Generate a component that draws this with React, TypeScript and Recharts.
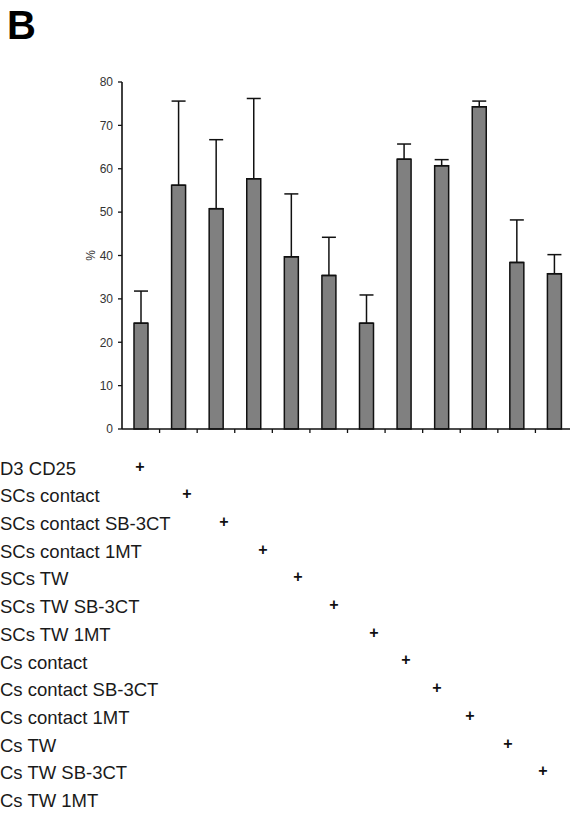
import React from "react";
import { BarChart, Bar, XAxis, YAxis, ErrorBar } from "recharts";

// bar heights (%) and upper SD
const groups = [
  "CD3 CD25",
  "SCs contact",
  "SCs contact SB-3CT",
  "SCs contact 1MT",
  "SCs TW",
  "SCs TW SB-3CT",
  "SCs TW 1MT",
  "Cs contact",
  "Cs contact SB-3CT",
  "Cs contact 1MT",
  "Cs TW",
  "Cs TW SB-3CT",
];
const values = [24.4, 56.2, 50.8, 57.7, 39.7, 35.4, 24.4, 62.2, 60.7, 74.3, 38.4, 35.8];
const errors = [7.4, 19.4, 15.9, 18.5, 14.5, 8.8, 6.5, 3.5, 1.4, 1.3, 9.8, 4.4];
const yTicks = [0, 10, 20, 30, 40, 50, 60, 70, 80];

// condition rows under the chart (left part is cut off in the original)
const rowLabels = [
  "D3 CD25",
  "SCs contact",
  "SCs contact SB-3CT",
  "SCs contact 1MT",
  "SCs TW",
  "SCs TW SB-3CT",
  "SCs TW 1MT",
  "Cs contact",
  "Cs contact SB-3CT",
  "Cs contact 1MT",
  "Cs TW",
  "Cs TW SB-3CT",
  "Cs TW 1MT",
];
// column of the "+" in each row of the condition table (layout only)
const plusX = [140, 187, 224, 263, 298, 334, 374, 406, 437, 470, 508, 543];

const CHART_W = 600;
const CHART_H = 450;
const PLOT_LEFT = 122;
const RIGHT_MARGIN = 27;
const BAND = (CHART_W - PLOT_LEFT - RIGHT_MARGIN) / groups.length;

const font = "'Liberation Sans', Arial, sans-serif";

const BoundaryTick = (props: any) => {
  const { x, y } = props;
  const bx = x + BAND / 2;
  return <line x1={bx} x2={bx} y1={y} y2={y + 4} stroke="#111" strokeWidth={1.3} />;
};

const PercentLabel = (props: any) => {
  const { viewBox } = props;
  const cx = viewBox.x + 29;
  const cy = viewBox.y + viewBox.height / 2;
  return (
    <text
      transform={`translate(${cx},${cy}) rotate(-90)`}
      textAnchor="middle"
      dominantBaseline="central"
      fontSize={12}
      fill="#333"
      fontFamily={font}
    >
      %
    </text>
  );
};

export default function App() {
  const data = groups.map((g, i) => ({
    group: g,
    value: values[i],
    err: [0, errors[i]],
  }));

  return (
    <div
      style={{
        position: "absolute",
        left: 0,
        top: 0,
        width: 570,
        height: 813,
        overflow: "hidden",
        background: "#fff",
        fontFamily: font,
      }}
    >
      <svg width={570} height={813} style={{ position: "absolute", left: 0, top: 0 }}>
        <text x={7} y={39} fontSize={40} fontWeight="bold" fill="#000" fontFamily={font}>
          B
        </text>
        {rowLabels.map((label, i) => {
          const cy = 468 + i * 27.7;
          return (
            <g key={label}>
              <text x={0} y={cy + 6.6} fontSize={18.5} fill="#1a1a1a" fontFamily={font}>
                {label}
              </text>
              {i < plusX.length && (
                <text
                  x={plusX[i]}
                  y={cy + 3.5}
                  fontSize={16}
                  fontWeight="bold"
                  textAnchor="middle"
                  fill="#111"
                  fontFamily={font}
                >
                  +
                </text>
              )}
            </g>
          );
        })}
      </svg>

      <div style={{ position: "absolute", left: 0, top: 0 }}>
        <BarChart
          width={CHART_W}
          height={CHART_H}
          data={data}
          margin={{ top: 82, right: RIGHT_MARGIN, bottom: 11, left: 62 }}
        >
          <XAxis
            dataKey="group"
            height={10}
            axisLine={{ stroke: "#111", strokeWidth: 1.6 }}
            tickLine={false}
            tickSize={0}
            tickMargin={0}
            interval={0}
            tick={<BoundaryTick />}
          />
          <YAxis
            width={60}
            domain={[0, 80]}
            ticks={yTicks}
            interval={0}
            axisLine={{ stroke: "#111", strokeWidth: 1.6 }}
            tickLine={{ stroke: "#111", strokeWidth: 1.3 }}
            tickSize={4}
            tickMargin={5}
            tick={{ fontSize: 12, fill: "#333", fontFamily: font }}
            label={<PercentLabel />}
          />
          <Bar
            dataKey="value"
            fill="#808080"
            stroke="#111"
            strokeWidth={1.5}
            barSize={14}
            isAnimationActive={false}
          >
            <ErrorBar
              dataKey="err"
              direction="y"
              width={7}
              stroke="#111"
              strokeWidth={1.5}
              isAnimationActive={false}
            />
          </Bar>
        </BarChart>
      </div>
    </div>
  );
}
